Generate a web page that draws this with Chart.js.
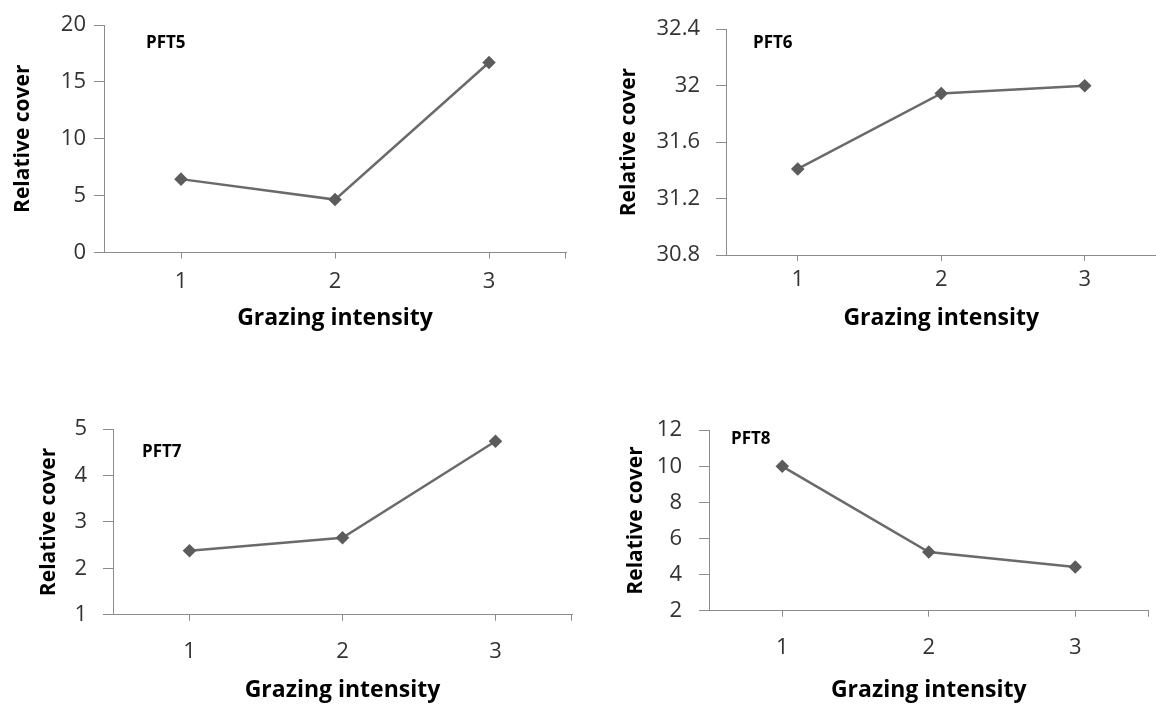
<!DOCTYPE html>
<html>
<head>
<meta charset="utf-8">
<script src="https://cdn.jsdelivr.net/npm/chart.js@4.4.1/dist/chart.umd.min.js"></script>
<style>
html, body { margin: 0; padding: 0; background: #fff; overflow: hidden; width: 1156px; height: 704px; }
canvas { position: absolute; }
</style>
</head>
<body>
<canvas id="c5" width="580" height="340" style="left:0px;top:0px"></canvas>
<canvas id="c6" width="584" height="340" style="left:580px;top:0px"></canvas>
<canvas id="c7" width="580" height="304" style="left:0px;top:400px"></canvas>
<canvas id="c8" width="576" height="304" style="left:580px;top:400px"></canvas>
<script>
// grazing intensity levels
const categories = ['1', '2', '3'];

// relative cover per plant functional type
const pft5 = [6.45, 4.65, 16.7];
const pft6 = [31.41, 31.945, 32.0];
const pft7 = [2.38, 2.66, 4.74];
const pft8 = [10.0, 5.25, 4.42];

// y axis ranges [min, max, step]
const pft5Range = [0, 20, 5];
const pft6Range = [30.8, 32.4, 0.4];
const pft7Range = [1, 5, 1];
const pft8Range = [2, 12, 2];

const FONT = '"Open Sans", "Liberation Sans", sans-serif';
const AXIS_GREY = '#8c8c8c';

// panel name inside the plot + closing tick at the end of the x axis
const panelLabel = {
    id: 'panelLabel',
    afterDraw(chart, args, opts) {
        const ctx = chart.ctx;
        const area = chart.chartArea;
        ctx.save();
        ctx.strokeStyle = AXIS_GREY;
        ctx.lineWidth = 1;
        ctx.beginPath();
        ctx.moveTo(Math.round(area.right) - 0.5, area.bottom);
        ctx.lineTo(Math.round(area.right) - 0.5, area.bottom + 6);
        ctx.stroke();
        ctx.font = 'bold 17px ' + FONT;
        ctx.fillStyle = '#000';
        ctx.textBaseline = 'middle';
        ctx.fillText(opts.text, opts.x, opts.y);
        ctx.restore();
    }
};

function makePanel(id, values, range, name, box) {
    const canvas = document.getElementById(id);
    const W = canvas.width, H = canvas.height;
    return new Chart(canvas.getContext('2d'), {
        type: 'line',
        data: {
            labels: categories,
            datasets: [{
                label: name,
                data: values,
                borderColor: '#6a6a6a',
                borderWidth: 2.5,
                pointStyle: 'rectRot',
                pointRadius: 5,
                pointBackgroundColor: '#5c5c5c',
                pointBorderColor: '#5c5c5c',
                tension: 0
            }]
        },
        options: {
            responsive: false,
            animation: false,
            layout: {
                padding: { top: box.top, right: W - box.right, left: 0, bottom: 0 }
            },
            plugins: {
                legend: { display: false },
                tooltip: { enabled: false },
                panelLabel: { text: name, x: box.lx, y: box.ly }
            },
            scales: {
                x: {
                    type: 'category',
                    offset: true,
                    grid: { display: true, drawOnChartArea: false, offset: false, tickLength: 6, color: AXIS_GREY },
                    border: { display: true, color: AXIS_GREY, width: 1 },
                    ticks: { color: '#333', padding: box.xPad, font: { family: FONT, size: 22 } },
                    title: {
                        display: true,
                        text: 'Grazing intensity',
                        color: '#000',
                        padding: { top: 0, bottom: box.xTitlePad },
                        font: { family: FONT, size: 23, weight: 'bold' }
                    },
                    afterFit(scale) { scale.height = H - box.bottom; }
                },
                y: {
                    min: range[0],
                    max: range[1],
                    grid: { display: true, drawOnChartArea: false, tickLength: 10, color: AXIS_GREY },
                    border: { display: true, color: AXIS_GREY, width: 1 },
                    ticks: {
                        stepSize: range[2],
                        color: '#333',
                        padding: box.yPad,
                        font: { family: FONT, size: 22 },
                        callback: v => String(parseFloat(v.toFixed(2)))
                    },
                    title: {
                        display: true,
                        text: 'Relative cover',
                        color: '#000',
                        padding: { top: box.yTitlePad, bottom: 0 },
                        font: { family: FONT, size: 21, weight: 'bold' }
                    },
                    afterFit(scale) { scale.width = box.left; }
                }
            }
        },
        plugins: [panelLabel]
    });
}

makePanel('c5', pft5, pft5Range, 'PFT5',
    { left: 104, top: 25, right: 566, bottom: 252.5, yPad: 8, xPad: 10, yTitlePad: 10, xTitlePad: 8, lx: 146, ly: 43 });
makePanel('c6', pft6, pft6Range, 'PFT6',
    { left: 146, top: 28, right: 584, bottom: 255, yPad: 16, xPad: 6, yTitlePad: 36, xTitlePad: 8, lx: 173, ly: 43 });
makePanel('c7', pft7, pft7Range, 'PFT7',
    { left: 113, top: 29, right: 572, bottom: 214.7, yPad: 16, xPad: 18, yTitlePad: 36, xTitlePad: 0, lx: 142, ly: 52 });
makePanel('c8', pft8, pft8Range, 'PFT8',
    { left: 129, top: 25, right: 574.5, bottom: 210.7, yPad: 17, xPad: 18, yTitlePad: 43, xTitlePad: 0, lx: 151, ly: 39 });
</script>
</body>
</html>
